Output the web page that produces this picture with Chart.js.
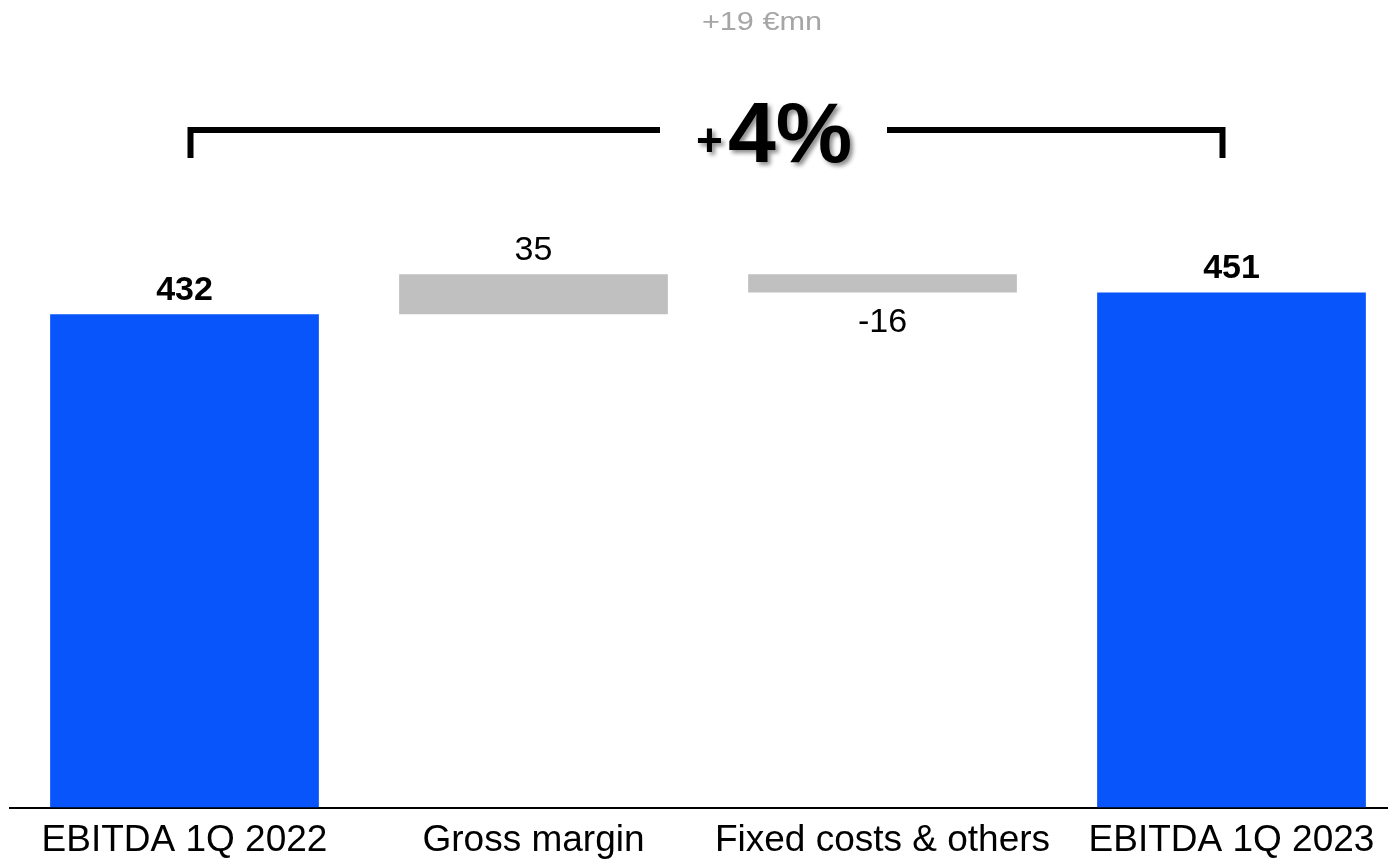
<!DOCTYPE html>
<html>
<head>
<meta charset="utf-8">
<script src="https://cdn.jsdelivr.net/npm/chart.js@4/dist/chart.umd.min.js"></script>
<style>
  html, body { margin: 0; padding: 0; background: #fff; overflow: hidden; }
  #wrap { width: 1406px; height: 876px; position: relative; }
</style>
</head>
<body>
<div id="wrap"><canvas id="chart"></canvas></div>
<script>
const categories = ["EBITDA 1Q 2022", "Gross margin", "Fixed costs & others", "EBITDA 1Q 2023"];
const changes = [432, 35, -16, 451];
const isTotal = [true, false, false, true];
const valueLabels = ["432", "35", "-16", "451"];
const totalChange = "+19 €mn";
const totalPct = "4%";

const blue = "#0755FB";
const grey = "#C0C0C0";
const font = "'Liberation Sans', Arial, sans-serif";

// floating ranges for the waterfall
let running = 0;
const ranges = changes.map((v, i) => {
  if (isTotal[i]) {
    running = v;
    return [0, v];
  }
  const start = running;
  running += v;
  return [start, running];
});

const overlay = {
  id: "overlay",
  afterDatasetsDraw(chart) {
    const { ctx, scales } = chart;
    const x = scales.x;
    const y = scales.y;
    ctx.save();

    // value labels
    ctx.textAlign = "center";
    ctx.textBaseline = "middle";
    ctx.fillStyle = "#000";
    ranges.forEach((r, i) => {
      const cx = x.getPixelForValue(i);
      const top = y.getPixelForValue(Math.max(r[0], r[1]));
      const bottom = y.getPixelForValue(Math.min(r[0], r[1]));
      ctx.font = (isTotal[i] ? "bold " : "") + "34px " + font;
      if (changes[i] < 0) {
        ctx.fillText(valueLabels[i], cx, bottom + 30);
      } else {
        ctx.fillText(valueLabels[i], cx, top - 24);
      }
    });

    // bracket
    const xl = x.getPixelForValue(0) + 6;
    const xr = x.getPixelForValue(3) - 9;
    const by = 130;
    ctx.strokeStyle = "#000";
    ctx.lineWidth = 6;
    ctx.beginPath();
    ctx.moveTo(xl, 158);
    ctx.lineTo(xl, by);
    ctx.lineTo(660, by);
    ctx.moveTo(887, by);
    ctx.lineTo(xr, by);
    ctx.lineTo(xr, 158);
    ctx.stroke();

    // +4%
    ctx.shadowColor = "rgba(0,0,0,0.45)";
    ctx.shadowOffsetX = 3;
    ctx.shadowOffsetY = 3;
    ctx.shadowBlur = 4;
    ctx.textAlign = "left";
    ctx.textBaseline = "alphabetic";
    ctx.font = "bold 46px " + font;
    ctx.fillText("+", 696, 156);
    ctx.font = "bold 86px " + font;
    ctx.fillText(totalPct, 728, 162);
    ctx.shadowColor = "transparent";

    // total change in €mn (slightly wide text in the original)
    ctx.fillStyle = "#A6A6A6";
    ctx.font = "26px " + font;
    ctx.textAlign = "center";
    ctx.textBaseline = "middle";
    ctx.translate(762, 23);
    ctx.scale(1.18, 1);
    ctx.fillText(totalChange, 0, 0);

    ctx.restore();
  }
};

new Chart(document.getElementById("chart"), {
  type: "bar",
  data: {
    labels: categories,
    datasets: [{
      data: ranges,
      backgroundColor: isTotal.map((t) => (t ? blue : grey)),
      borderWidth: 0,
      barPercentage: 0.77,
      categoryPercentage: 1
    }]
  },
  options: {
    responsive: true,
    maintainAspectRatio: false,
    animation: false,
    layout: { padding: { top: 8, left: 10, right: 0, bottom: 2 } },
    plugins: {
      legend: { display: false },
      tooltip: { enabled: false }
    },
    scales: {
      x: {
        grid: { display: false, drawTicks: false },
        border: { display: true, color: "#000", width: 2 },
        ticks: {
          color: "#000",
          padding: 11,
          maxRotation: 0,
          font: { family: font, size: 37 }
        }
      },
      y: {
        display: false,
        min: 0,
        max: 700
      }
    }
  },
  plugins: [overlay]
});
</script>
</body>
</html>
